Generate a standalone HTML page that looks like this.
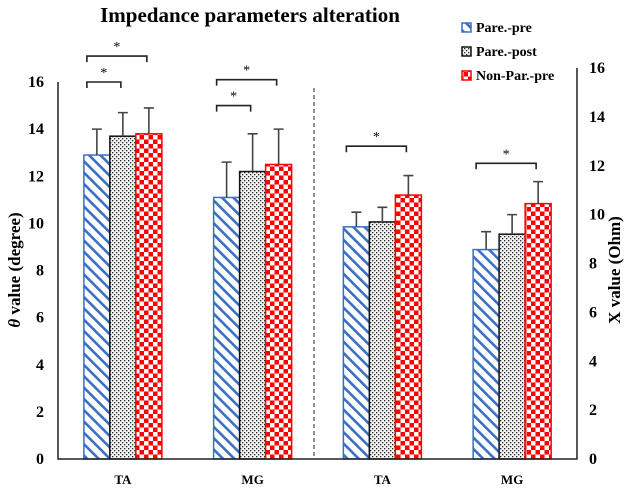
<!DOCTYPE html>
<html><head><meta charset="utf-8"><style>
html,body{margin:0;padding:0;background:#fff;width:630px;height:490px;overflow:hidden}
svg{display:block;font-family:"Liberation Serif",serif;font-weight:bold}
</style></head><body>
<svg id="chart" width="630" height="490" xmlns="http://www.w3.org/2000/svg">
<defs>
<pattern id="stripe" patternUnits="userSpaceOnUse" width="8" height="8" patternTransform="rotate(-45)">
<rect width="8" height="8" fill="#fff"/><rect x="0" y="0" width="2.6" height="8" fill="#3a6fc4"/></pattern>
<pattern id="dots" patternUnits="userSpaceOnUse" width="4" height="4">
<rect width="4" height="4" fill="#f4f4f4"/><rect x="0" y="0" width="1.3" height="1.3" fill="#222"/><rect x="2" y="2" width="1.3" height="1.3" fill="#222"/></pattern>
<pattern id="check" patternUnits="userSpaceOnUse" width="9" height="9">
<rect width="9" height="9" fill="#ff0000"/><rect width="4.5" height="4.5" fill="#fff"/><rect x="4.5" y="4.5" width="4.5" height="4.5" fill="#fff"/></pattern>
</defs>
<text x="250" y="22" text-anchor="middle" font-size="21">Impedance parameters alteration</text>
</svg>
<script>
const categories=["TA","MG","TA","MG"];
const axisSide=["left","left","right","right"];
const seriesNames=["Pare.-pre","Pare.-post","Non-Par.-pre"];
const parePre=[12.9,11.1,9.5,8.57];
const parePost=[13.7,12.2,9.7,9.2];
const nonParPre=[13.8,12.5,10.8,10.45];
const parePreErr=[1.1,1.5,0.6,0.73];
const parePostErr=[1.0,1.6,0.6,0.8];
const nonParPreErr=[1.1,1.5,0.8,0.9];
const leftTicks=[0,2,4,6,8,10,12,14,16];
const rightTicks=[0,2,4,6,8,10,12,14,16];
// brackets: [category index, from series, to series, height value]
const brackets=[[0,0,1,16.0],[0,0,2,17.1],[1,0,1,15.0],[1,0,2,16.1],[2,0,2,12.8],[3,0,2,12.1]];

const NS="http://www.w3.org/2000/svg";
const svg=document.getElementById('chart');
const X0=58,X1=577,BASE=459;
const yL=v=>BASE-v*(377/16);
const yR=v=>BASE-v*(391/16);
const yOf=(i,v)=>axisSide[i]==="left"?yL(v):yR(v);
const groupW=(X1-X0)/categories.length;
const bw=26;
const cx=i=>X0+groupW*(i+0.5);
const barX=(i,s)=>cx(i)-bw*1.5+s*bw;
function mk(tag,attrs){const e=document.createElementNS(NS,tag);for(const k in attrs)e.setAttribute(k,attrs[k]);svg.appendChild(e);return e;}

const vals=[parePre,parePost,nonParPre];
const errs=[parePreErr,parePostErr,nonParPreErr];
const fills=["url(#stripe)","url(#dots)","url(#check)"];
const strokes=["#3a6fc4","#111","#ff0000"];
for(let s=0;s<3;s++){for(let i=0;i<categories.length;i++){
 const y=yOf(i,vals[s][i]);
 const r=mk('rect',{x:barX(i,s),y:y,width:bw,height:BASE-y,fill:fills[s],stroke:strokes[s],'stroke-width':1.5});
 
 
 const ex=barX(i,s)+bw/2, ey=yOf(i,vals[s][i]+errs[s][i]);
 const e=mk('path',{d:`M${ex},${y}V${ey}M${ex-5},${ey}H${ex+5}`,stroke:'#444','stroke-width':1.6,fill:'none'});
 
 
}}
brackets.forEach(b=>{
 const i=b[0];const x1=barX(i,b[1])+3,x2=barX(i,b[2])+bw/2-2,y=yOf(i,b[3]);
 const p=mk('path',{d:`M${x1},${y+6}V${y}H${x2}V${y+6}`,stroke:'#222','stroke-width':1.6,fill:'none'});
 
 
 const t=mk('text',{x:(x1+x2)/2,y:y-5,'text-anchor':'middle','font-size':14,'font-weight':'normal'});t.textContent='*';
 
 
});
let a=mk('path',{d:`M${X0},${yL(16)}V${BASE}H${X1}V${yR(16)}`,stroke:'#222','stroke-width':1.5,fill:'none'});


let d=mk('line',{x1:314,y1:88,x2:314,y2:BASE,stroke:'#222','stroke-dasharray':'4,3','stroke-width':1});


leftTicks.forEach(v=>{const t=mk('text',{x:44,y:yL(v)+5,'text-anchor':'end','font-size':16});t.textContent=v;
 
 });
rightTicks.forEach(v=>{const t=mk('text',{x:589,y:yR(v)+5,'text-anchor':'start','font-size':16});t.textContent=v;
 
 });
categories.forEach((c,i)=>{const t=mk('text',{x:cx(i),y:484,'text-anchor':'middle','font-size':13});t.textContent=c;
 
 });
let yt=mk('text',{x:0,y:0,'text-anchor':'middle','font-size':17,transform:'translate(20,270) rotate(-90)'});
yt.innerHTML='<tspan font-style="italic">θ</tspan> value (degree)';


let yt2=mk('text',{x:0,y:0,'text-anchor':'middle','font-size':17,transform:'translate(620,270) rotate(-90)'});
yt2.textContent='X value (Ohm)';


seriesNames.forEach((n,s)=>{const y=32+s*24;
 const r=mk('rect',{x:462,y:y-9,width:9,height:9,fill:fills[s],stroke:strokes[s],'stroke-width':1.5});
 
 
 const t=mk('text',{x:476,y:y,'font-size':14});t.textContent=n;
 
 });
</script>
</body></html>
